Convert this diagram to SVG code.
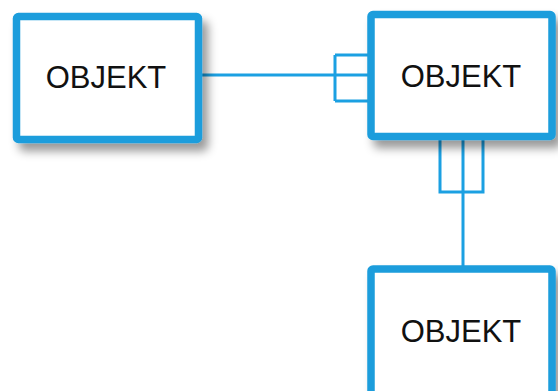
<svg xmlns="http://www.w3.org/2000/svg" width="558" height="391" viewBox="0 0 558 391">
  <style>
    .box { fill: #ffffff; stroke: #1a9ddc; stroke-width: 7.5; filter: url(#shadow); }
    .label { font-family: "Liberation Sans", Arial, sans-serif; font-size: 31px; fill: #111111; text-anchor: middle; }
    .conn { fill: none; stroke: #1ba0e2; stroke-width: 3; }
  </style>
  <defs>
    <filter id="shadow" x="-10%" y="-10%" width="130%" height="150%">
      <feDropShadow dx="6" dy="8" stdDeviation="5" flood-color="#000000" flood-opacity="0.4"/>
    </filter>
  </defs>
  <rect width="558" height="391" fill="#ffffff"/>
  <g id="connectors">
    <path class="conn" d="M202,75 H368 M335,55 V101 M335,55 H368 M335,101 H368"/>
    <path class="conn" d="M463,140 V266 M440,140 V192 H483 V140"/>
  </g>
  <g id="node1">
    <rect class="box" x="16.5" y="16.5" width="182" height="123" rx="2"/>
    <text class="label" x="106" y="88">OBJEKT</text>
  </g>
  <g id="node2">
    <rect class="box" x="371" y="14.5" width="181" height="122" rx="2"/>
    <text class="label" x="461" y="87">OBJEKT</text>
  </g>
  <g id="node3">
    <rect class="box" x="371" y="269" width="181" height="140" rx="2"/>
    <text class="label" x="461" y="342">OBJEKT</text>
  </g>
</svg>
